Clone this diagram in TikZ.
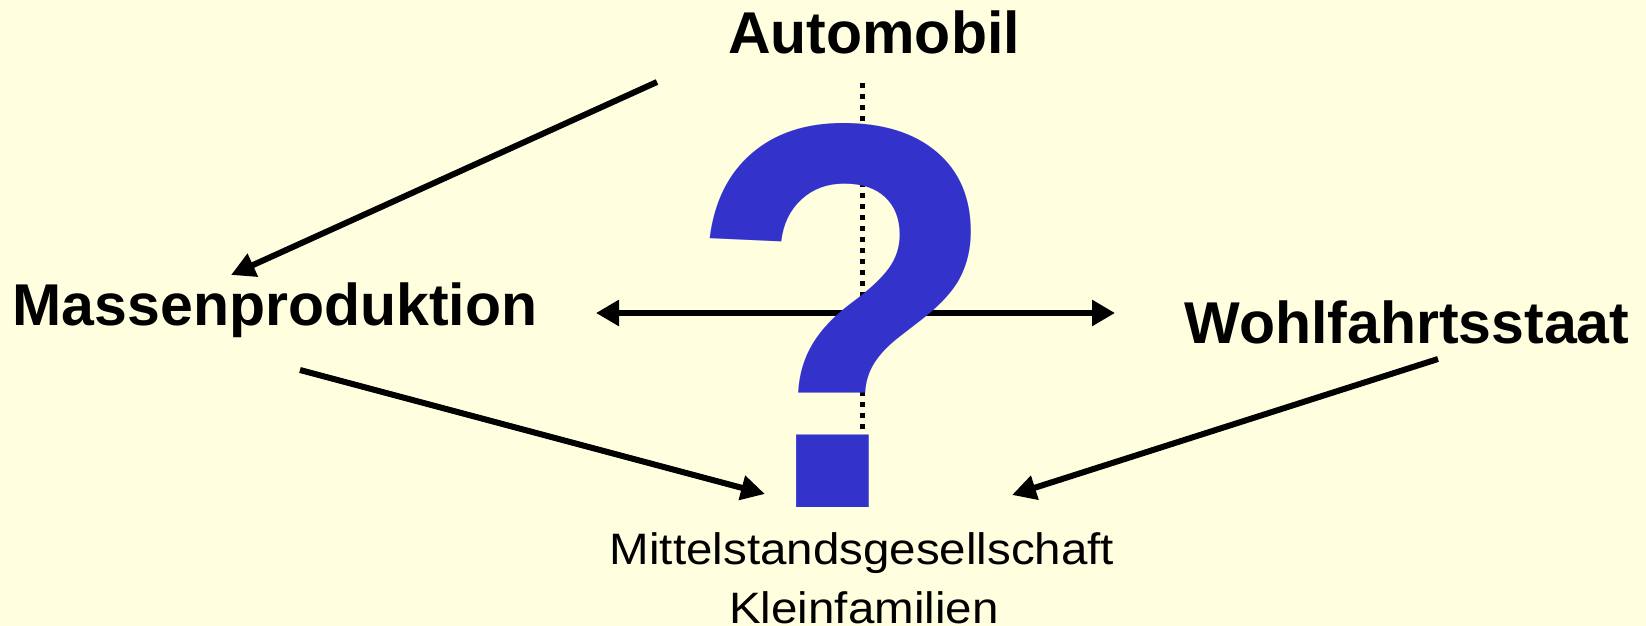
\documentclass[tikz,border=0pt]{standalone}
\usepackage{fontspec}
\setmainfont{Liberation Sans}
\newfontfamily\widefont[FakeStretch=1.08]{Liberation Sans}
\usetikzlibrary{arrows.meta}
\definecolor{paper}{RGB}{255,255,224}
\definecolor{qblue}{RGB}{51,51,204}
\tikzset{
  heading/.style={inner sep=0pt, anchor=base, font=\fontsize{59}{59}\selectfont\bfseries},
  subline/.style={inner sep=0pt, anchor=base, font=\widefont\fontsize{44}{44}\selectfont},
  link/.style={line width=6pt, -{Triangle[length=24pt,width=24pt]}},
  twoway/.style={line width=6pt, {Triangle[length=23pt,width=25pt]}-{Triangle[length=23pt,width=25pt]}},
  axis/.style={line width=5pt, dash pattern=on 5pt off 6pt},
}
\begin{document}
\begin{tikzpicture}[x=1pt,y=-1pt]
  \fill[paper] (0,0) rectangle (1646,626);
  \useasboundingbox (0,0) rectangle (1646,626);

  % labels
  \node[heading] (auto)  at (874,53)  {Automobil};
  \node[heading] (masse) at (275,325) {Massenproduktion};
  \node[heading] (wohl)  at (1407,343) {Wohlfahrtsstaat};
  \node[subline] (mittel) at (862,564) {Mittelstandsgesellschaft};
  \node[subline] (klein)  at (864,623) {Kleinfamilien};

  % connector end points
  \coordinate (autoOut)   at (657,82);
  \coordinate (masseIn)   at (231,275);
  \coordinate (masseOut)  at (300,370);
  \coordinate (mittelL)   at (765,494);
  \coordinate (wohlOut)   at (1438,359);
  \coordinate (mittelR)   at (1012,495);
  \coordinate (leftEnd)   at (596,313);
  \coordinate (rightEnd)  at (1115,313);
  \coordinate (axisTop)   at (862,83);
  \coordinate (axisBot)   at (862,432);

  % vertical dotted axis and horizontal double arrow (behind the question mark)
  \draw[axis] (axisTop) -- (axisBot);
  \draw[twoway] (leftEnd) -- (rightEnd);

  % the big question mark
  \node[inner sep=0pt, anchor=base, text=qblue,
        font=\fontsize{550}{550}\selectfont\bfseries] (quest) at (844,507)
        {\scalebox{0.936}[1]{?}};

  % influence arrows
  \draw[link] (autoOut) -- (masseIn);
  \draw[link] (masseOut) -- (mittelL);
  \draw[link] (wohlOut) -- (mittelR);
\end{tikzpicture}
\end{document}
